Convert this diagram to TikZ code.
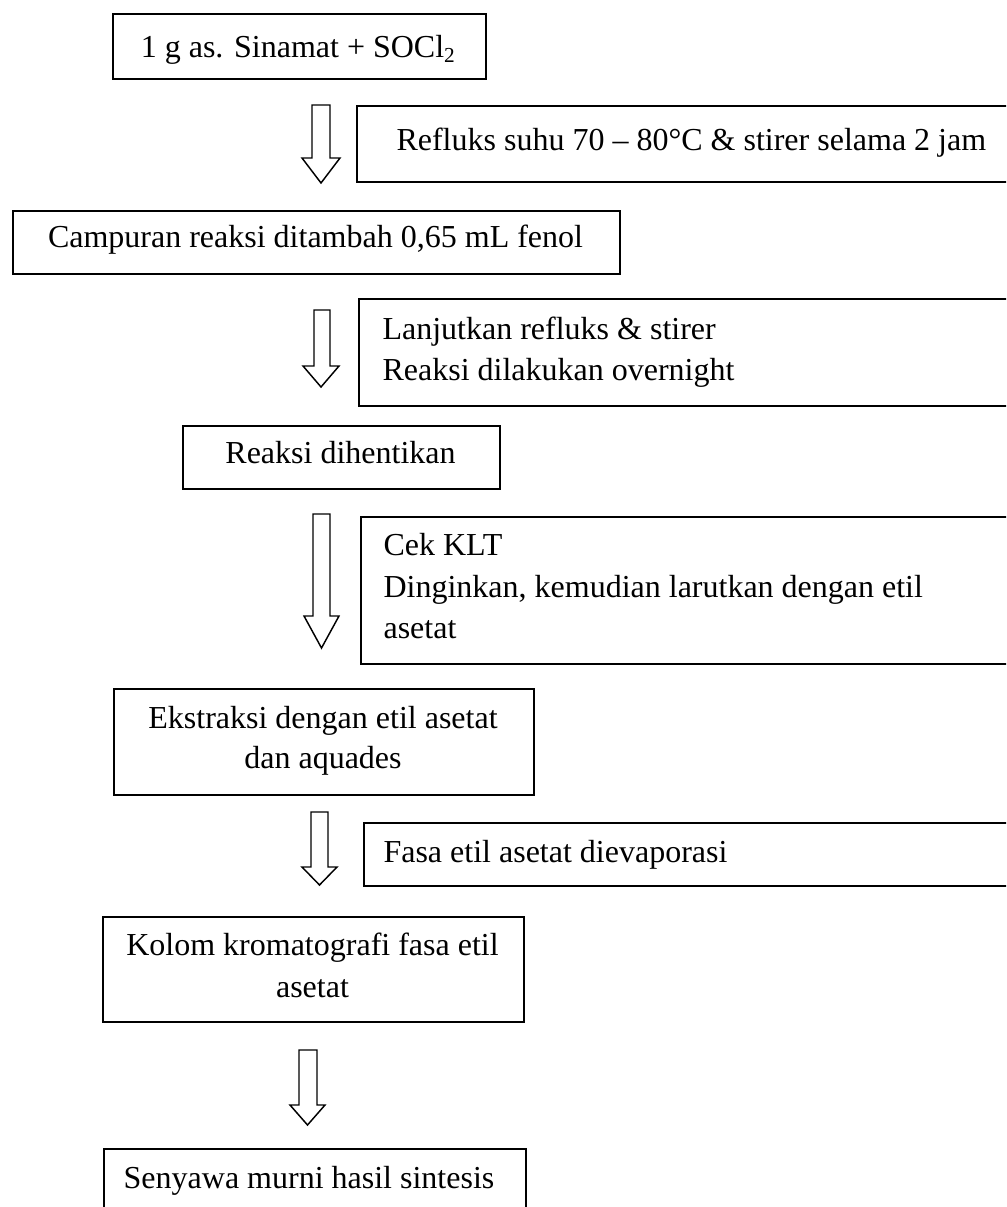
\documentclass[tikz,border=0pt]{standalone}
\usepackage{fontspec}
\setmainfont{Liberation Serif}
\newcommand\boxnode[5]{\node[box, anchor=north west, minimum width={(#4-#2)*0.375pt}, minimum height={(#5-#3)*0.375pt}] (#1) at (#2,#3) {};}
% shaft left, shaft right, top, head start, head left, head right, tip
\newcommand\blockarr[7]{\draw[blockarrow] (#1,#3) -- (#2,#3) -- (#2,#4) -- (#6,#4) -- ({(#5+#6)/2},#7) -- (#5,#4) -- (#1,#4) -- cycle;}
\begin{document}
\begin{tikzpicture}[x=0.375pt,y=-0.375pt,
  box/.style={draw, line width=0.75pt, inner sep=0pt},
  blockarrow/.style={draw, line width=0.55pt, line join=miter},
  txt/.style={inner sep=0pt, font=\fontsize{12}{15.4}\selectfont}]
\useasboundingbox (0,0) rectangle (1006,1207);
\clip (0,0) rectangle (1006,1207);

% boxes
\boxnode{b1}{112}{13}{485}{78}
\boxnode{b2}{356}{105}{1030}{181}
\boxnode{b3}{12}{210}{619}{273}
\boxnode{b4}{358}{298}{1030}{405}
\boxnode{b5}{182}{425}{499}{488}
\boxnode{b6}{360}{516}{1030}{663}
\boxnode{b7}{113}{688}{533}{794}
\boxnode{b8}{363}{822}{1030}{885}
\boxnode{b9}{102}{916}{523}{1021}
\boxnode{b10}{103}{1148}{525}{1240}

% texts
\node[txt, anchor=base] (t1) at (298.5,58) {1 g as. Sinamat + SOCl\textsubscript{2}};
\node[txt, anchor=base west] (t2) at (396,151) {Refluks suhu 70 – 80°C \& stirer selama 2 jam};
\node[txt, anchor=base] (t3) at (315.5,248) {Campuran reaksi ditambah 0,65 mL fenol};
\node[txt, anchor=base west] (t4a) at (382,340) {Lanjutkan refluks \& stirer};
\node[txt, anchor=base west] (t4b) at (382,381) {Reaksi dilakukan overnight};
\node[txt, anchor=base] (t5) at (340.5,463) {Reaksi dihentikan};
\node[txt, anchor=base west] (t6a) at (383,555) {Cek KLT};
\node[txt, anchor=base west] (t6b) at (383,597) {Dinginkan, kemudian larutkan dengan etil};
\node[txt, anchor=base west] (t6c) at (383,638) {asetat};
\node[txt, anchor=base] (t7a) at (323,728) {Ekstraksi dengan etil asetat};
\node[txt, anchor=base] (t7b) at (323,768) {dan aquades};
\node[txt, anchor=base west] (t8) at (383,862) {Fasa etil asetat dievaporasi};
\node[txt, anchor=base] (t9a) at (312.5,955) {Kolom kromatografi fasa etil};
\node[txt, anchor=base] (t9b) at (312.5,997) {asetat};
\node[txt, anchor=base] (t10) at (309,1188) {Senyawa murni hasil sintesis};

% block arrows
\blockarr{312}{330}{105}{158}{302}{340}{183}
\blockarr{314}{330}{310}{366}{303}{339}{387}
\blockarr{313}{330}{514}{616}{304}{339}{648}
\blockarr{311}{328}{812}{867}{302}{337}{885}
\blockarr{299}{317}{1050}{1105}{290}{325}{1125}
\end{tikzpicture}
\end{document}
